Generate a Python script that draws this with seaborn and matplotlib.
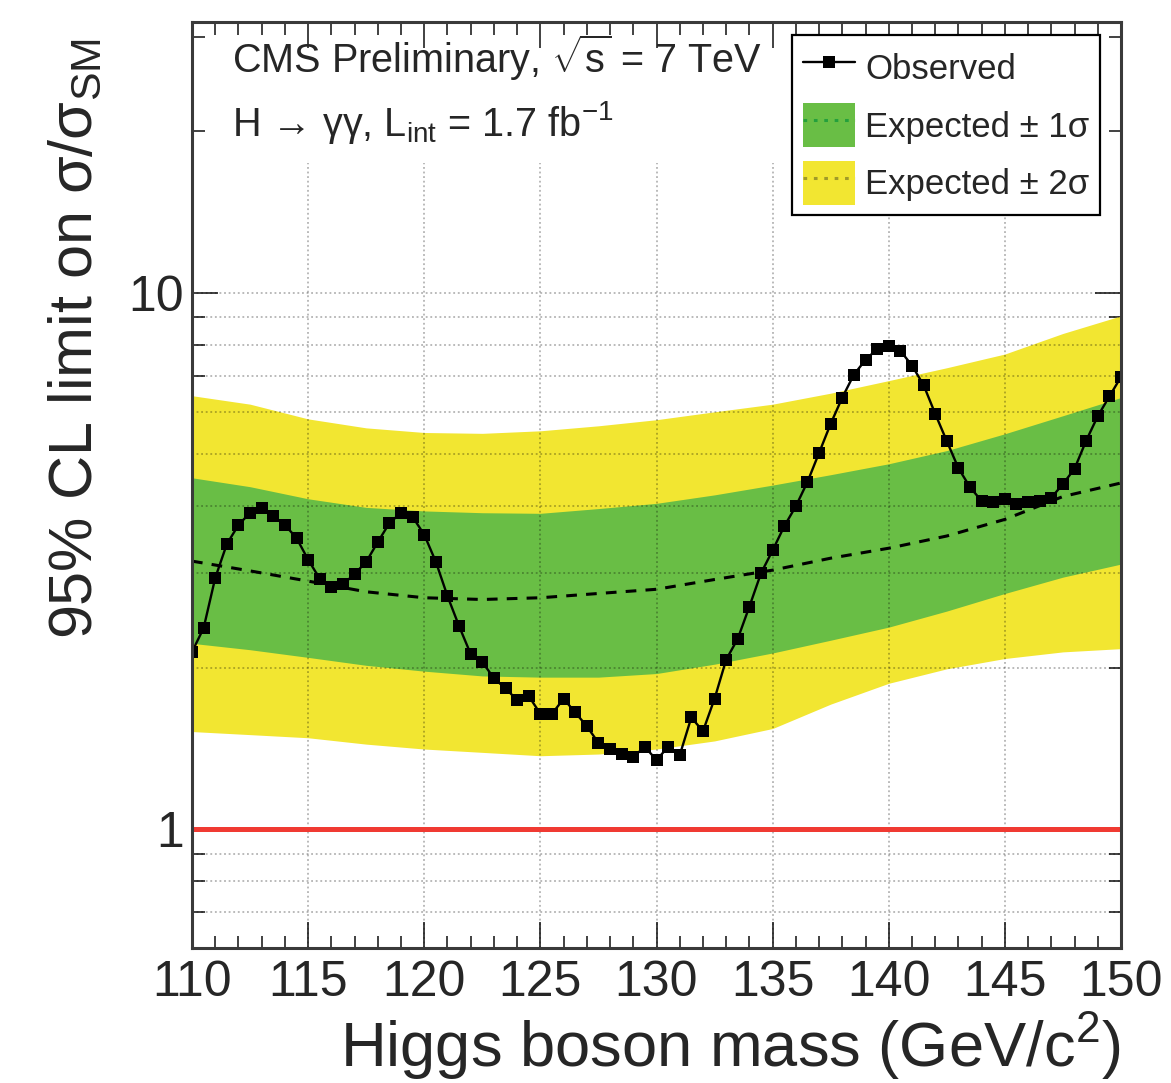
import matplotlib
matplotlib.use("Agg")
import matplotlib.pyplot as plt
import seaborn as sns
import numpy as np
import pandas as pd
from matplotlib.lines import Line2D
from matplotlib.patches import Patch
from matplotlib.ticker import MultipleLocator, FixedLocator, NullFormatter

# Observed 95% CL limit, scanned every 0.5 GeV
mass_obs = [110.0 + 0.5 * i for i in range(81)]
observed = [
    2.14, 2.37, 2.94, 3.40, 3.69, 3.89, 3.97, 3.84, 3.69, 3.49,
    3.18, 2.93, 2.83, 2.86, 2.99, 3.15, 3.43, 3.72, 3.89, 3.82,
    3.54, 3.15, 2.72, 2.39, 2.12, 2.05, 1.91, 1.83, 1.74, 1.77,
    1.64, 1.64, 1.75, 1.65, 1.555, 1.448, 1.413, 1.383, 1.364, 1.423,
    1.345, 1.423, 1.373, 1.615, 1.522, 1.75, 2.07, 2.265, 2.60, 3.00,
    3.31, 3.67, 4.00, 4.44, 5.03, 5.70, 6.38, 7.04, 7.50, 7.86,
    7.95, 7.80, 7.32, 6.73, 5.95, 5.29, 4.71, 4.34, 4.09, 4.07,
    4.12, 4.04, 4.07, 4.09, 4.15, 4.40, 4.70, 5.30, 5.89, 6.41,
    6.97,
]

# Expected limit (median) and its 1 and 2 sigma bands
mass_exp = [110.0, 112.5, 115.0, 117.5, 120.0, 122.5, 125.0, 127.5, 130.0,
            132.5, 135.0, 137.5, 140.0, 142.5, 145.0, 147.5, 150.0]
expected = [3.16, 3.03, 2.90, 2.77, 2.70, 2.68, 2.70, 2.75, 2.80,
            2.92, 3.04, 3.20, 3.34, 3.52, 3.78, 4.17, 4.42]
one_sigma_up = [4.52, 4.35, 4.13, 3.98, 3.92, 3.89, 3.88, 3.96, 4.05,
                4.20, 4.38, 4.58, 4.80, 5.08, 5.46, 5.90, 6.38]
one_sigma_down = [2.22, 2.16, 2.09, 2.02, 1.97, 1.93, 1.92, 1.92, 1.95,
                  2.03, 2.13, 2.25, 2.38, 2.55, 2.75, 2.95, 3.12]
two_sigma_up = [6.43, 6.20, 5.82, 5.60, 5.49, 5.47, 5.53, 5.65, 5.80,
                6.00, 6.20, 6.50, 6.86, 7.25, 7.69, 8.40, 9.06]
two_sigma_down = [1.52, 1.50, 1.48, 1.44, 1.41, 1.39, 1.37, 1.38, 1.41,
                  1.46, 1.54, 1.71, 1.87, 1.99, 2.08, 2.14, 2.17]

sm_reference = 1.0

y_major = [1, 10]
y_major_labels = ["1", "10"]
y_minor = [0.7, 0.8, 0.9, 2, 3, 4, 5, 6, 7, 8, 9, 20, 30]
grid_y = [0.7, 0.8, 0.9, 2, 3, 4, 5, 6, 7, 8, 9, 10]
grid_x = [115, 120, 125, 130, 135, 140, 145]

GREEN = "#69be45"
YELLOW = "#f2e631"

sns.set_theme(style="ticks")
plt.rcParams["font.family"] = ["Liberation Sans", "DejaVu Sans"]
plt.rcParams["mathtext.fontset"] = "custom"
plt.rcParams["mathtext.rm"] = "Liberation Sans"
plt.rcParams["mathtext.it"] = "Liberation Sans:italic"
plt.rcParams["mathtext.bf"] = "Liberation Sans:bold"

fig = plt.figure(figsize=(11.71, 10.83), dpi=100)
ax = fig.add_axes([192 / 1171, 135 / 1083, 929 / 1171, 926 / 1083])

obs_df = pd.DataFrame({"mass": mass_obs, "limit": observed})
exp_df = pd.DataFrame({"mass": mass_exp, "median": expected,
                       "up1": one_sigma_up, "dn1": one_sigma_down,
                       "up2": two_sigma_up, "dn2": two_sigma_down})

# uncertainty bands
ax.fill_between(exp_df["mass"], exp_df["dn2"], exp_df["up2"],
                color=YELLOW, lw=0, zorder=1)
ax.fill_between(exp_df["mass"], exp_df["dn1"], exp_df["up1"],
                color=GREEN, lw=0, zorder=1.1)

# dotted grid
for gx in grid_x:
    ax.axvline(gx, ymin=0, ymax=0.848, color="black", alpha=0.35,
               lw=1.1, ls=(0, (1.2, 1.8)), zorder=2)
for gy in grid_y:
    ax.axhline(gy, color="black", alpha=0.35, lw=1.1,
               ls=(0, (1.2, 1.8)), zorder=2)

# SM reference
ax.axhline(sm_reference, color="#f03a32", lw=3.6, zorder=3)

# expected median
sns.lineplot(data=exp_df, x="mass", y="median", ax=ax, color="black",
             lw=2.2, zorder=4, legend=False)
ax.lines[-1].set_dashes([3.5, 3.0])

# observed limit
sns.lineplot(data=obs_df, x="mass", y="limit", ax=ax, color="black",
             lw=1.7, marker="s", markersize=8, markeredgewidth=0,
             zorder=5, legend=False)

ax.set_yscale("log")
ax.set_xlim(110, 150)
ax.set_ylim(0.6, 32)

ax.xaxis.set_major_locator(MultipleLocator(5))
ax.xaxis.set_minor_locator(MultipleLocator(1))
ax.yaxis.set_major_locator(FixedLocator(y_major))
ax.set_yticklabels(y_major_labels)
ax.yaxis.set_minor_locator(FixedLocator(y_minor))
ax.yaxis.set_minor_formatter(NullFormatter())

ax.tick_params(which="both", direction="in", top=True, right=True,
               color="#333333", width=1.3)
ax.tick_params(which="major", length=19)
ax.tick_params(which="minor", length=9)
ax.tick_params(axis="x", which="major", labelsize=36, pad=9)
ax.tick_params(axis="y", which="major", labelsize=36, pad=6)

for sp in ax.spines.values():
    sp.set_linewidth(2.2)
    sp.set_color("#3a3a3a")
    sp.set_zorder(6)

ax.set_xlabel("Higgs boson mass (GeV/c$^{2}$)", fontsize=45.5, loc="right")
ax.xaxis.label.set_va("baseline")
ax.xaxis.set_label_coords(1.0, -0.1285)

ax.set_ylabel("95% CL limit on σ/σ$_{\\mathrm{SM}}$", fontsize=44, loc="top")
ax.yaxis.label.set_va("baseline")
ax.yaxis.set_label_coords(-0.108, 0.982)

ax.text(0.043, 0.945, r"CMS Preliminary, $\sqrt{\mathrm{s}}$ = 7 TeV",
        transform=ax.transAxes, fontsize=28.5, va="baseline", ha="left",
        zorder=7)
ax.text(0.043, 0.877,
        "H → γγ, L$_{\\mathrm{int}}$ = 1.7 fb$^{\\mathrm{-1}}$",
        transform=ax.transAxes, fontsize=28.5, va="baseline", ha="left",
        zorder=7)

handles = [
    Line2D([], [], color="black", lw=1.7, marker="s", markersize=8,
           markeredgewidth=0),
    (Patch(facecolor=GREEN, edgecolor="none"),
     Line2D([], [], color="#24a03c", lw=2.2, ls=(0, (1.2, 2.2)))),
    (Patch(facecolor=YELLOW, edgecolor="none"),
     Line2D([], [], color="#a09a28", lw=2.2, ls=(0, (1.2, 2.2)))),
]
labels = ["Observed", "Expected ± 1σ", "Expected ± 2σ"]
leg = ax.legend(handles, labels, loc="upper left",
                bbox_to_anchor=(0.646, 0.986), borderaxespad=0,
                fontsize=25, frameon=True, fancybox=False, framealpha=1,
                edgecolor="black", borderpad=0.3, handlelength=1.5,
                handleheight=1.57, labelspacing=0.4, handletextpad=0.3,
                numpoints=1)
leg.get_frame().set_linewidth(1.6)
leg.set_zorder(8)

fig.savefig("out.png", dpi=100)
